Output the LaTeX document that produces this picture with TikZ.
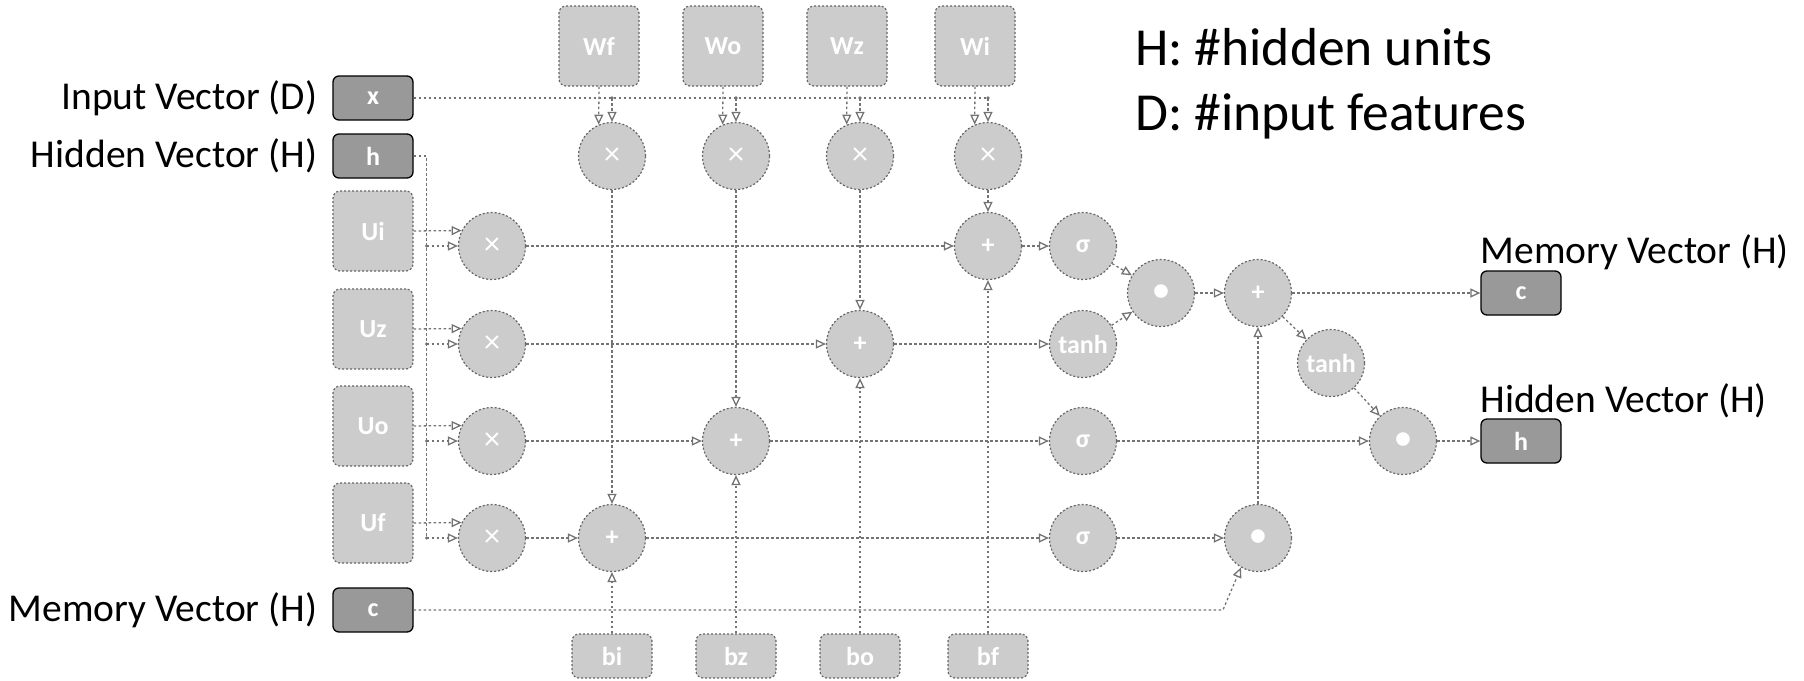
\documentclass[tikz,border=0pt]{standalone}
\usepackage{fontspec}
\setmainfont{Carlito}
\usepackage{tikz}
\usetikzlibrary{arrows.meta,positioning}

\begin{document}
\begin{tikzpicture}[x=1pt,y=-1pt,>={Triangle[open,length=10pt,width=9pt]},
wire/.style={black!55,line width=1.3pt,dash pattern=on 2.5pt off 2.5pt},
vec/.style={draw=black,line width=1.3pt,rounded corners=6pt,fill=black!40,minimum width=80pt,minimum height=44pt,text=white,font=\bfseries\fontsize{26}{26}\selectfont},
par/.style={draw=black!60,line width=1.2pt,dash pattern=on 2pt off 2pt,rounded corners=7pt,fill=black!20,minimum width=80pt,minimum height=80pt,text=white,font=\bfseries\fontsize{26}{26}\selectfont},
bias/.style={par,minimum height=44pt},
op/.style={circle,draw=black!60,line width=1.2pt,dash pattern=on 2pt off 2pt,fill=black!20,minimum size=67pt,inner sep=0pt,text=white,font=\bfseries\fontsize{26}{26}\selectfont},
lbl/.style={inner sep=0pt,font=\fontsize{39.5}{48}\selectfont},
leg/.style={inner sep=0pt,font=\fontsize{53.5}{60}\selectfont}]
\useasboundingbox (0,0) rectangle (1804,680);

\node[vec](x)at(373,98){x};
\node[vec](h)at(373,156){h};
\node[vec](c)at(373,610){c};
\node[lbl,left=15pt of x]{Input Vector (D)};
\node[lbl,left=15pt of h]{Hidden Vector (H)};
\node[lbl,left=15pt of c]{Memory Vector (H)};

\node[par](Ui)at(373,231){Ui};
\node[par](Uz)at(373,329){Uz};
\node[par](Uo)at(373,426){Uo};
\node[par](Uf)at(373,523){Uf};
\node[par](Wf)at(599,46){Wf};
\node[par](Wo)at(723,46){Wo};
\node[par](Wz)at(847,46){Wz};
\node[par](Wi)at(975,46){Wi};
\node[bias](bi)at(612,656){bi};
\node[bias](bz)at(736,656){bz};
\node[bias](bo)at(860,656){bo};
\node[bias](bf)at(988,656){bf};

\node[op](mi)at(492,246){\mdseries\fontsize{32}{32}\selectfont ×};
\node[op](mz)at(492,344){\mdseries\fontsize{32}{32}\selectfont ×};
\node[op](mo)at(492,441){\mdseries\fontsize{32}{32}\selectfont ×};
\node[op](mf)at(492,538){\mdseries\fontsize{32}{32}\selectfont ×};
\node[op](wf)at(612,156){\mdseries\fontsize{32}{32}\selectfont ×};
\node[op](wo)at(736,156){\mdseries\fontsize{32}{32}\selectfont ×};
\node[op](wz)at(860,156){\mdseries\fontsize{32}{32}\selectfont ×};
\node[op](wi)at(988,156){\mdseries\fontsize{32}{32}\selectfont ×};
\node[op](ai)at(988,246){+};
\node[op](az)at(860,344){+};
\node[op](ao)at(736,441){+};
\node[op](af)at(612,538){+};
\node[op](si)at(1083,246){σ};
\node[op](tz)at(1083,344){tanh};
\node[op](so)at(1083,441){σ};
\node[op](sf)at(1083,538){σ};
\node[op](d1)at(1161,293){\fontsize{32}{32}\selectfont •};
\node[op](ac)at(1258,293){+};
\node[op](th)at(1331,363){tanh};
\node[op](dh)at(1403,441){\fontsize{32}{32}\selectfont •};
\node[op](df)at(1258,538){\fontsize{32}{32}\selectfont •};

\node[vec](co)at(1521,293){c};
\node[vec](ho)at(1521,441){h};
\node[lbl,anchor=south west]at(co.north west){Memory Vector (H)};
\node[lbl,anchor=south west]at(ho.north west){Hidden Vector (H)};
\node[leg,anchor=base west](lh)at(1135,65){H: \#hidden units};
\node[leg,anchor=base west](ld)at(1135,130){D: \#input features};

\draw[wire](x.east)--(x.east -| wi.north);
\draw[wire,->](x.east -| wf.north)--(wf.north);
\draw[wire,->](x.east -| wo.north)--(wo.north);
\draw[wire,->](x.east -| wz.north)--(wz.north);
\draw[wire,->](x.east -| wi.north)--(wi.north);
\fill[black!55](x.east -| wf.north)circle(1.8)(x.east -| wo.north)circle(1.8)
(x.east -| wz.north)circle(1.8)(x.east -| wi.north)circle(1.8);
\draw[wire,->](Wf.south)--(wf.113);
\draw[wire,->](Wo.south)--(wo.113);
\draw[wire,->](Wz.south)--(wz.113);
\draw[wire,->](Wi.south)--(wi.113);

\draw[wire](h.east)--++(13,0)coordinate(hv)--(hv |- mf);
\draw[wire,->](hv |- mi)--(mi);
\draw[wire,->](hv |- mz)--(mz);
\draw[wire,->](hv |- mo)--(mo);
\draw[wire,->](hv |- mf)--(mf);
\fill[black!55](hv |- mi)circle(1.8)(hv |- mz)circle(1.8)(hv |- mo)circle(1.8)(hv |- mf)circle(1.8);
\draw[wire,->](Ui.east)--(mi.153);
\draw[wire,->](Uz.east)--(mz.153);
\draw[wire,->](Uo.east)--(mo.153);
\draw[wire,->](Uf.east)--(mf.153);

\draw[wire,->](mi)--(ai);
\draw[wire,->](mz)--(az);
\draw[wire,->](mo)--(ao);
\draw[wire,->](mf)--(af);
\draw[wire,->](wi)--(ai);
\draw[wire,->](wz)--(az);
\draw[wire,->](wo)--(ao);
\draw[wire,->](wf)--(af);
\draw[wire,->](bf)--(ai);
\draw[wire,->](bo)--(az);
\draw[wire,->](bz)--(ao);
\draw[wire,->](bi)--(af);

\draw[wire,->](ai)--(si);
\draw[wire,->](az)--(tz);
\draw[wire,->](ao)--(so);
\draw[wire,->](af)--(sf);
\draw[wire,->](si)--(d1);
\draw[wire,->](tz)--(d1);
\draw[wire,->](d1)--(ac);
\draw[wire,->](sf)--(df);
\path(df.240)++(-18,0)coordinate(ck);
\draw[wire,->](c.east)--(ck |- c.east)--(df.240);
\draw[wire,->](df)--(ac);
\draw[wire,->](ac)--(co);
\draw[wire,->](ac)--(th);
\draw[wire,->](th)--(dh);
\draw[wire,->](so)--(dh);
\draw[wire,->](dh)--(ho);
\end{tikzpicture}
\end{document}
